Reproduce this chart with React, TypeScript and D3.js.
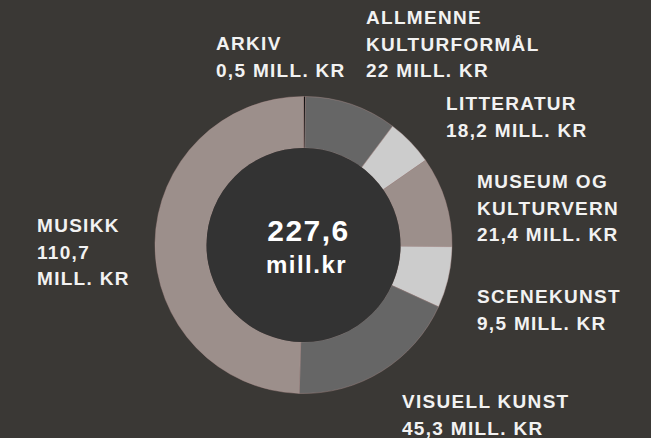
import React from "react";
import * as d3 from "d3";

const categories = ["ARKIV", "ALLMENNE KULTURFORMÅL", "LITTERATUR", "MUSEUM OG KULTURVERN", "SCENEKUNST", "VISUELL KUNST", "MUSIKK"];
// slice sizes as drawn in the picture (mill. kr)
const sliceValues = [0.5, 22.8, 11.6, 22.4, 15.1, 42.4, 112.7];
const sliceColors = ["#111111", "#666666", "#cccccc", "#9c8f8b", "#cccccc", "#666666", "#9c8f8b"];
// label lines as printed
const labelLines: string[][] = [
  ["ARKIV", "0,5 MILL. KR"],
  ["ALLMENNE", "KULTURFORMÅL", "22 MILL. KR"],
  ["LITTERATUR", "18,2 MILL. KR"],
  ["MUSEUM OG", "KULTURVERN", "21,4 MILL. KR"],
  ["SCENEKUNST", "9,5 MILL. KR"],
  ["VISUELL KUNST", "45,3 MILL. KR"],
  ["MUSIKK", "110,7", "MILL. KR"],
];
const labelPos = [
  [216, 50],
  [366, 24],
  [446, 110],
  [477, 188],
  [477, 303],
  [402, 408],
  [37, 232],
];
const totalText = "227,6";
const unitText = "mill.kr";

const W = 651, H = 438;
const cx = 303.5, cy = 245, R = 148.5, r = 97;

export default function App() {
  const pie = d3.pie<number>().sort(null).value((d) => d).startAngle(0).endAngle(2 * Math.PI);
  const arcs = pie(sliceValues);
  const arc = d3.arc<d3.PieArcDatum<number>>().innerRadius(r).outerRadius(R);
  const font = "'Liberation Sans', Arial, Helvetica, sans-serif";
  return (
    <svg width={W} height={H} style={{ position: "absolute", left: 0, top: 0, display: "block" }}>
      <rect width={W} height={H} fill="#3a3835" />
      <g transform={`translate(${cx},${cy})`}>
        {arcs.map((a, i) => (
          <path key={i} d={arc(a) || ""} fill={sliceColors[i]} stroke="#b09290" strokeWidth={0.4} />
        ))}
        <circle r={r} fill="#333333" />
        <text y={-4} textAnchor="middle" fill="#ffffff" fontFamily={font} fontWeight="bold" fontSize={30} letterSpacing={1.5} dx={5}>
          {totalText}
        </text>
        <text y={28} textAnchor="middle" fill="#ffffff" fontFamily={font} fontWeight="bold" fontSize={24} letterSpacing={1.5} dx={3}>
          {unitText}
        </text>
      </g>
      {labelLines.map((lines, i) => (
        <text key={i} x={labelPos[i][0]} y={labelPos[i][1]} fill="#f2f2f2" fontFamily={font} fontWeight="bold" fontSize={19} letterSpacing={1.3}>
          {lines.map((l, j) => (
            <tspan key={j} x={labelPos[i][0]} dy={j === 0 ? 0 : 26.5}>{l}</tspan>
          ))}
        </text>
      ))}
    </svg>
  );
}
